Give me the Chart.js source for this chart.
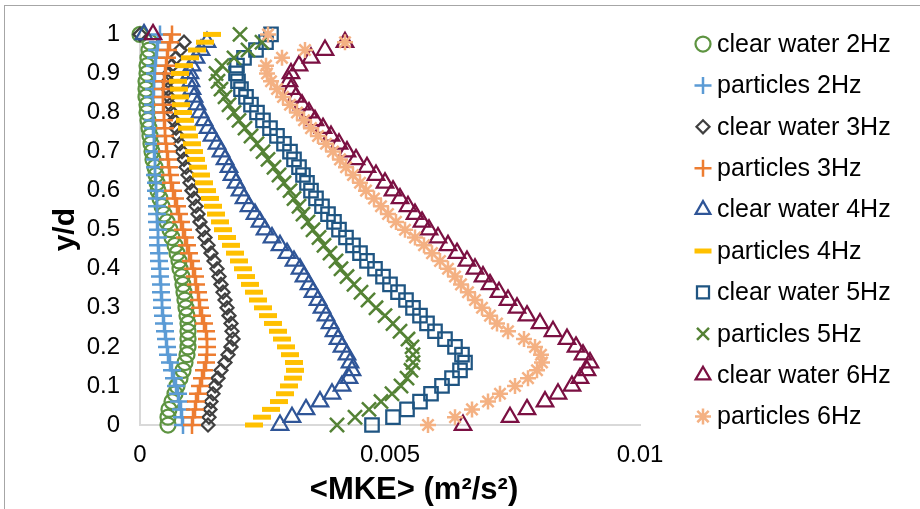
<!DOCTYPE html>
<html>
<head>
<meta charset="utf-8">
<script src="https://cdn.jsdelivr.net/npm/chart.js"></script>
<style>
  body { margin: 0; background: #fff; }
  #wrap { position: relative; width: 920px; height: 509px; overflow: hidden; }
  #frame { position: absolute; left: 4px; top: 5px; width: 1000px; height: 1000px;
           border-left: 1px solid #a6a6a6; border-top: 1px solid #a6a6a6; }
  canvas { position: absolute; left: 0; top: 0; }
</style>
</head>
<body>
<div id="wrap">
  <div id="frame"></div>
  <canvas id="myChart" width="920" height="509"></canvas>
</div>
<script>
// y/d positions, same for every series
var yd = [0,0.02,0.04,0.06,0.08,0.1,0.12,0.14,0.16,0.18,0.2,0.22,0.24,0.26,0.28,0.3,0.32,0.34,0.36,0.38,
  0.4,0.42,0.44,0.46,0.48,0.5,0.52,0.54,0.56,0.58,0.6,0.62,0.64,0.66,0.68,0.7,0.72,0.74,0.76,0.78,
  0.8,0.82,0.84,0.86,0.88,0.9,0.92,0.94,0.96,0.98,1]

// <MKE> values (m2/s2)
var cw2 = [0.00056,0.00056,0.00058,0.00064,0.0007,0.00074,0.0008,0.00086,0.0009,0.00094,0.00096,0.00096,0.00096,0.00096,0.00094,0.00092,0.0009,0.00088,0.00086,0.00084,
  0.0008,0.00078,0.00074,0.0007,0.00064,0.0006,0.00054,0.00048,0.00044,0.0004,0.00036,0.00034,0.00032,0.0003,0.00026,0.00024,0.00022,0.0002,0.00018,0.00016,
  0.00014,0.00014,0.00012,0.00012,0.00012,0.00014,0.00014,0.00016,0.00018,0.0002,0]
var p2 = [0.00086,0.00084,0.00082,0.00078,0.00076,0.00072,0.00068,0.00064,0.0006,0.00056,0.00054,0.00052,0.0005,0.00048,0.00046,0.00044,0.00044,0.00042,0.00042,0.0004,
  0.0004,0.00038,0.00038,0.00036,0.00036,0.00036,0.00034,0.00034,0.00034,0.00034,0.00032,0.00032,0.0003,0.0003,0.0003,0.00028,0.00028,0.00028,0.00026,0.00026,
  0.00026,0.00026,0.00026,0.00028,0.00028,0.0003,0.0003,0.00032,0.00034,0.00036,0.0004]
var cw3 = [0.00136,0.00138,0.0014,0.00142,0.00146,0.0015,0.00156,0.00162,0.0017,0.00176,0.00182,0.00186,0.00184,0.00182,0.00178,0.00174,0.0017,0.00166,0.00162,0.00158,
  0.00154,0.00148,0.00142,0.00136,0.0013,0.00126,0.0012,0.00116,0.00112,0.00108,0.00104,0.001,0.00096,0.00092,0.00088,0.00084,0.0008,0.00076,0.00072,0.00068,
  0.00064,0.0006,0.00058,0.00056,0.00056,0.00058,0.00064,0.00072,0.0008,0.00088,0]
var p3 = [0.00104,0.00106,0.0011,0.00112,0.00116,0.0012,0.00124,0.00128,0.00132,0.00134,0.00134,0.00134,0.00132,0.00128,0.00124,0.0012,0.00118,0.00116,0.00112,0.0011,
  0.00106,0.00102,0.00098,0.00094,0.0009,0.00086,0.00082,0.00078,0.00074,0.0007,0.00066,0.00062,0.0006,0.00058,0.00056,0.00054,0.00052,0.0005,0.0005,0.00048,
  0.00048,0.00046,0.00046,0.00046,0.00048,0.0005,0.00052,0.00054,0.00056,0.0006,0.00064]
var cw4 = [0.0028,0.00304,0.00332,0.0036,0.00384,0.00404,0.00418,0.00424,0.0042,0.00414,0.00404,0.00396,0.00388,0.0038,0.00372,0.00364,0.00356,0.00346,0.00338,0.00328,
  0.0032,0.00308,0.00294,0.0028,0.00264,0.0025,0.0024,0.0023,0.00218,0.00208,0.002,0.00192,0.00184,0.00178,0.0017,0.00162,0.00154,0.00144,0.00136,0.00128,
  0.0012,0.00114,0.00108,0.00104,0.00102,0.001,0.00104,0.00112,0.00122,0.00134,0.00008]
var p4 = [0.00228,0.00244,0.00262,0.00278,0.0029,0.00298,0.00306,0.0031,0.00308,0.003,0.00292,0.00284,0.00276,0.00266,0.00256,0.00246,0.00236,0.00228,0.0022,0.00212,
  0.00206,0.00198,0.0019,0.00182,0.00174,0.00166,0.0016,0.00152,0.00146,0.0014,0.00134,0.00128,0.00122,0.00116,0.00112,0.00108,0.00104,0.00098,0.00094,0.0009,
  0.00086,0.00082,0.0008,0.00078,0.00076,0.0008,0.00088,0.001,0.00114,0.0013,0.00144]
var cw5 = [0.00464,0.00506,0.00534,0.0056,0.00582,0.00604,0.00624,0.0064,0.0065,0.00644,0.0063,0.0061,0.0059,0.00574,0.0056,0.00546,0.00532,0.00516,0.005,0.00486,
  0.0047,0.00454,0.0044,0.00426,0.00412,0.00398,0.00388,0.00376,0.00364,0.00352,0.00342,0.00334,0.00326,0.00318,0.00308,0.003,0.00288,0.00274,0.0026,0.00246,
  0.00234,0.00222,0.00212,0.00202,0.00196,0.00192,0.00194,0.00208,0.00232,0.00252,0.00262]
var p5 = [0.00394,0.0043,0.00458,0.00482,0.00504,0.00522,0.00534,0.00542,0.00546,0.00546,0.00544,0.00536,0.0052,0.00506,0.0049,0.00472,0.00456,0.00442,0.00428,0.00414,
  0.00402,0.00392,0.0038,0.00368,0.00358,0.00346,0.00336,0.00326,0.00318,0.00308,0.003,0.00288,0.00278,0.00268,0.00256,0.00246,0.00234,0.00222,0.0021,0.00198,
  0.00188,0.00178,0.0017,0.00162,0.00156,0.00152,0.00164,0.00188,0.00216,0.00244,0.002]
var cw6 = [0.00646,0.0074,0.00774,0.0081,0.00836,0.00864,0.0088,0.00894,0.009,0.00886,0.00872,0.00854,0.00826,0.008,0.00774,0.00754,0.00736,0.00718,0.007,0.00686,
  0.0067,0.00654,0.00634,0.00616,0.00596,0.00578,0.00564,0.0055,0.00536,0.0052,0.00506,0.0049,0.00472,0.00454,0.00432,0.00414,0.00398,0.00382,0.00366,0.0035,
  0.00338,0.00324,0.00312,0.00302,0.00298,0.00302,0.00318,0.00342,0.0037,0.0041,0.00026]
var p6 = [0.00576,0.0063,0.00664,0.00696,0.0072,0.0075,0.00776,0.00794,0.00804,0.00802,0.0079,0.00768,0.00736,0.00714,0.007,0.00684,0.0067,0.00656,0.00642,0.0063,
  0.00616,0.006,0.00584,0.00568,0.0055,0.0053,0.00512,0.00496,0.00482,0.00468,0.00452,0.0044,0.00426,0.00412,0.004,0.00386,0.00372,0.00356,0.00342,0.00328,
  0.00314,0.003,0.00286,0.00274,0.00262,0.00254,0.00252,0.00284,0.0033,0.0041,0.00256]

var names = ["clear water 2Hz","particles 2Hz","clear water 3Hz","particles 3Hz","clear water 4Hz",
  "particles 4Hz","clear water 5Hz","particles 5Hz","clear water 6Hz","particles 6Hz"]
var values = [cw2, p2, cw3, p3, cw4, p4, cw5, p5, cw6, p6]
var xTicks = [0, 0.005, 0.01]
var yTicks = [0, 0.1, 0.2, 0.3, 0.4, 0.5, 0.6, 0.7, 0.8, 0.9, 1]

const colors = ["#5e9441","#5b9bd5","#404040","#ed7d31","#2f5597","#ffc000","#1f5582","#548235","#7b1042","#f4b183"]
const styles = ["circle","cross","rectRot","cross","triangle","line","rect","crossRot","triangle","star"]
const radii  = [7.5, 9, 6.5, 9, 9.5, 9, 9.5, 10, 9.5, 8]
const widths = [2.25, 2.5, 2.25, 2.5, 2.25, 5, 2.25, 2.5, 2.25, 2.5]

var ctx = document.getElementById("myChart").getContext("2d");

var datasets = values.map((vals, i) => ({
  label: names[i],
  data: vals.map((v, k) => ({x: v, y: yd[k]})),
  pointStyle: styles[i],
  pointRadius: radii[i],
  pointHoverRadius: radii[i],
  borderWidth: widths[i],
  borderColor: colors[i],
  backgroundColor: 'rgba(0,0,0,0)',
  order: 9 - i,
  clip: false
}))

// legend and x title drawn by hand so they sit where the original ones are
const sideLegend = {
  id: 'sideLegend',
  afterDraw(chart) {
    const c = chart.ctx
    c.save()
    chart.data.datasets.forEach((ds, i) => {
      const y = 44 + i * 41.4
      const r = Math.min(ds.pointRadius, 8.5)
      c.strokeStyle = ds.borderColor
      c.fillStyle = 'rgba(0,0,0,0)'
      c.lineWidth = ds.borderWidth
      Chart.helpers.drawPoint(c, {pointStyle: ds.pointStyle, radius: r, borderWidth: ds.borderWidth, rotation: 0}, 703, y)
      c.fillStyle = '#000'
      c.font = '25px "Liberation Sans", Arial, sans-serif'
      c.textBaseline = 'middle'
      c.textAlign = 'left'
      c.fillText(ds.label, 717, y + 1)
    })
    c.font = 'bold 31px "Liberation Sans", Arial, sans-serif'
    c.textAlign = 'center'
    c.textBaseline = 'middle'
    c.fillStyle = '#000'
    c.fillText('<MKE> (m²/s²)', 414, 490)
    c.restore()
  }
}

var myChart = new Chart(ctx, {
  type: 'scatter',
  data: { datasets: datasets },
  options: {
    responsive: false,
    animation: false,
    devicePixelRatio: 1,
    layout: { padding: { top: 33, right: 280, bottom: 0, left: 0 } },
    plugins: { legend: { display: false }, tooltip: { enabled: false } },
    scales: {
      x: {
        type: 'linear', min: 0, max: 0.01,
        afterBuildTicks: s => { s.ticks = xTicks.map(v => ({value: v})) },
        afterFit: s => { s.height = 84 },
        grid: { display: false, drawTicks: false },
        border: { display: true, color: '#d9d9d9', width: 2 },
        ticks: { padding: 16, color: '#000', font: { family: '"Liberation Sans", Arial', size: 24 },
                 callback: v => String(+v.toFixed(3)) }
      },
      y: {
        type: 'linear', min: 0, max: 1,
        afterBuildTicks: s => { s.ticks = yTicks.map(v => ({value: v})) },
        afterFit: s => { s.width = 140 },
        grid: { display: false, drawTicks: false },
        border: { display: true, color: '#d9d9d9', width: 2 },
        ticks: { padding: 20, color: '#000', font: { family: '"Liberation Sans", Arial', size: 24 },
                 callback: v => String(+v.toFixed(1)) },
        title: { display: true, text: 'y/d', color: '#000', padding: { top: 48, bottom: 0 },
                 font: { family: '"Liberation Sans", Arial', size: 30, weight: 'bold' } }
      }
    }
  },
  plugins: [sideLegend]
});
</script>
</body>
</html>
